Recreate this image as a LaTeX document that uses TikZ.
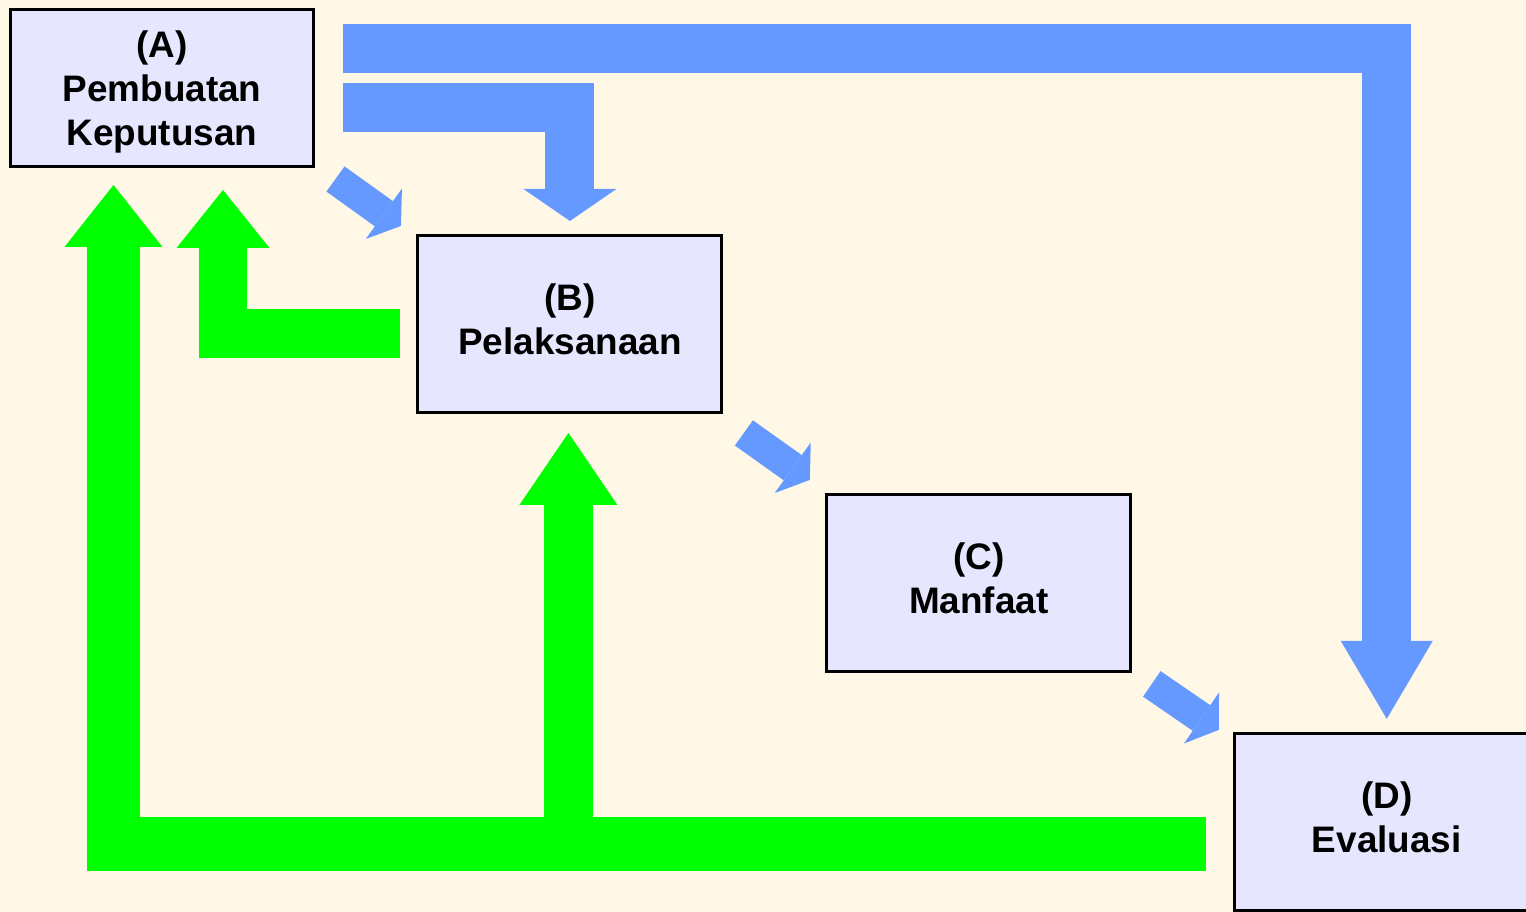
\documentclass[tikz,border=0pt]{standalone}
\usepackage{fontspec}
\setmainfont{Liberation Sans}
\usetikzlibrary{positioning,calc,arrows.meta}
\definecolor{PaperBg}{RGB}{255,248,230}
\definecolor{BoxFill}{RGB}{230,230,255}
\definecolor{FlowBlue}{RGB}{102,153,255}
\definecolor{FlowGreen}{RGB}{0,255,0}

\begin{document}
\begin{tikzpicture}[x=0.02cm, y=-0.02cm,
BoxStyle/.style={draw=black, line width=1.7pt, fill=BoxFill, minimum width=6.08cm,
                minimum height=3.54cm, inner sep=0pt, outer sep=0pt, align=center,
                text depth=5.7pt, font=\bfseries\fontsize{21}{25}\selectfont},
BlueStyle/.style 2 args={draw=FlowBlue, line width=0.98cm,
                -{Triangle[length=#1, width=#2, line width=0pt]}},
GreenStyle/.style 2 args={draw=FlowGreen, line width=0.98cm,
                -{Triangle[length=#1, width=#2, line width=0pt]}},
SlantStyle/.style={draw=FlowBlue, line width=0.62cm,
                -{Triangle[length=0.42cm, width=1.24cm, line width=0pt]}},]
\fill [PaperBg] (0,0) rectangle (1526,912);
\useasboundingbox (0,0) rectangle (1526,912);
\node [BoxStyle, minimum height=3.16cm, text depth=0pt] (A) at (162,88) {(A)\\Pembuatan\\Keputusan};
\node [BoxStyle, below right=1.38cm and 2.08cm of A] (B) {(B)\\Pelaksanaan};
\node [BoxStyle, below right=1.64cm and 2.1cm of B] (C) {(C)\\Manfaat};
\node [BoxStyle, below right=1.24cm and 2.08cm of C] (D) {(D)\\Evaluasi};
% blue flow
\draw [BlueStyle={1.56cm}{1.84cm}] ($(A.north east)+(29,39)$) coordinate (b1)
      -- (b1 -| D.north) -- ($(D.north)+(0,-15)$);
\draw [BlueStyle={0.64cm}{1.86cm}] ($(A.north east)+(29,98.5)$) coordinate (b2)
      -- (b2 -| B.north) -- ($(B.north)+(0,-15)$);
\draw [SlantStyle] ($(A.south east)+(21.5,12)$) -- ($(B.north west)+(-17,-10)$);
\draw [SlantStyle] ($(B.south east)+(22,20)$) -- ($(C.north west)+(-17,-15)$);
\draw [SlantStyle] ($(C.south east)+(21,12)$) -- ($(D.north west)+(-16,-4)$);
% green feedback
\coordinate (g1end) at ($(A.south)+(-48.5,18)$);
\coordinate (g2end) at ($(B.south)+(-1.5,20)$);
\coordinate (g3end) at ($(A.south)+(61,23)$);
\draw [GreenStyle={1.24cm}{1.96cm}, line width=1.08cm] ($(D.west)+(-29,22)$) coordinate (g1)
      -- (g1 -| g1end) -- (g1end);
\draw [GreenStyle={1.44cm}{1.96cm}] (g2end |- g1) -- (g2end);
\draw [GreenStyle={1.16cm}{1.86cm}] ($(B.west)+(-18,9.5)$) coordinate (g3)
      -- (g3 -| g3end) -- (g3end);
\end{tikzpicture}
\end{document}
